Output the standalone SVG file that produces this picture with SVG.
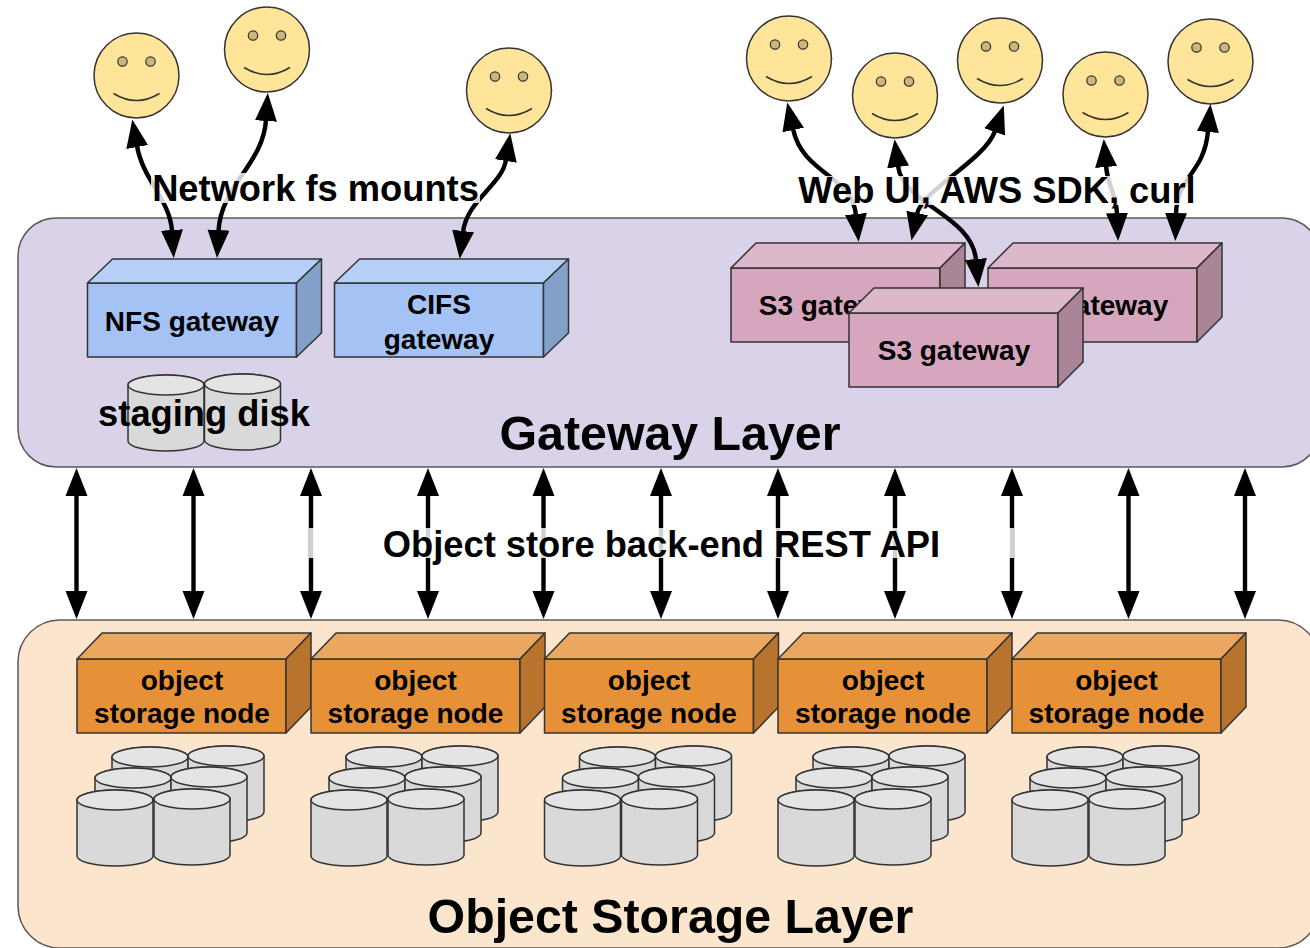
<svg xmlns="http://www.w3.org/2000/svg" xmlns:xlink="http://www.w3.org/1999/xlink" width="1310" height="948" viewBox="0 0 1310 948">
<style>
text{font-family:"Liberation Sans",Arial,sans-serif;fill:#000;text-anchor:middle}
.n{font-size:28px;font-weight:bold;stroke:none}
.l{font-size:36.3px;font-weight:bold}
.h{font-size:48.3px;font-weight:bold}
.s{stroke:#333;stroke-width:1.5;stroke-linejoin:round}
.layer{stroke:#595959;stroke-width:1.5}
.a{fill:none;stroke:#000;stroke-width:4.4;marker-start:url(#ah);marker-end:url(#ah)}
.band{fill:#fff;fill-opacity:.82}
</style>
<defs>
<marker id="ah" markerUnits="userSpaceOnUse" markerWidth="30" markerHeight="24" viewBox="0 0 30 24" refX="1" refY="12" orient="auto-start-reverse"><path d="M0,1 L28,12 L0,23 Z" fill="#000"/></marker>
<g id="boxblue" class="s"><path fill="#a4c2f4" d="M0,0H209V74H0Z"/><path fill="#b6cff6" d="M0,0L25,-24H234L209,0Z"/><path fill="#83a0c8" d="M209,0L234,-24V50L209,74Z"/></g>
<g id="boxpink" class="s"><path fill="#d5a6bd" d="M0,0H209V74H0Z"/><path fill="#ddb7ca" d="M0,0L25,-25H234L209,0Z"/><path fill="#aa8497" d="M209,0L234,-25V49L209,74Z"/></g>
<g id="boxorange" class="s"><path fill="#e69138" d="M0,0H209V74H0Z"/><path fill="#eba760" d="M0,0L25,-26H234L209,0Z"/><path fill="#b8742d" d="M209,0L234,-26V48L209,74Z"/></g>
<g id="cyl" class="s"><path fill="#d9d9d9" d="M0,10A38,10 0 0 1 76,10V66A38,10 0 0 1 0,66Z"/><ellipse cx="38" cy="10" rx="38" ry="10" fill="#e4e4e4"/></g>
<g id="disks"><use href="#cyl" x="35" y="-43"/><use href="#cyl" x="111" y="-44"/><use href="#cyl" x="18" y="-22"/><use href="#cyl" x="94" y="-23"/><use href="#cyl" x="0" y="0"/><use href="#cyl" x="77" y="-1"/></g>
<g id="face"><ellipse cx="0" cy="0" rx="42.500" ry="42.500" fill="#ffe599" stroke="#333" stroke-width="1.5"/><circle cx="-14" cy="-14" r="4.7" fill="#ccb77a" stroke="#333" stroke-width="1.2"/><circle cx="14" cy="-14" r="4.7" fill="#ccb77a" stroke="#333" stroke-width="1.2"/><path d="M-23,18Q0,32 23,18" fill="none" stroke="#333" stroke-width="1.5"/></g>
</defs>
<rect width="1310" height="948" fill="#fff"/>
<g id="gateway-layer"><rect class="layer" x="18" y="218" width="1302" height="249" rx="38" fill="#d9d2e9"/><text class="h" x="670" y="450">Gateway Layer</text></g>
<g id="storage-layer"><rect class="layer" x="18" y="620" width="1302" height="328" rx="42" fill="#fce5cd"/><text class="h" x="670.500" y="933">Object Storage Layer</text></g>
<g id="nfs-gateway"><use href="#boxblue" x="87.5" y="283"/><text class="n" x="192" y="331">NFS gateway</text></g>
<g id="cifs-gateway"><use href="#boxblue" x="334.5" y="283"/><text class="n" x="439" y="314">CIFS</text><text class="n" x="439" y="349">gateway</text></g>
<g id="staging-disk"><use href="#cyl" x="128" y="375"/><use href="#cyl" x="204.5" y="374"/><text class="l" x="204" y="426">staging disk</text></g>
<g id="s3-gateway-left"><use href="#boxpink" x="731" y="268"/><text class="n" x="835" y="315">S3 gateway</text></g>
<g id="s3-gateway-right"><use href="#boxpink" x="988" y="268"/><text class="n" x="1092" y="315">S3 gateway</text></g>
<g id="s3-gateway-center"><use href="#boxpink" x="849" y="313"/><text class="n" x="954" y="360">S3 gateway</text></g>
<g id="storage-node-1"><use href="#boxorange" x="77" y="659"/><text class="n" x="182" y="690">object</text><text class="n" x="182" y="723">storage node</text><use href="#disks" x="77" y="790"/></g>
<g id="storage-node-2"><use href="#boxorange" x="311" y="659"/><text class="n" x="415.500" y="690">object</text><text class="n" x="415.500" y="723">storage node</text><use href="#disks" x="311" y="790"/></g>
<g id="storage-node-3"><use href="#boxorange" x="544.500" y="659"/><text class="n" x="649" y="690">object</text><text class="n" x="649" y="723">storage node</text><use href="#disks" x="544.500" y="790"/></g>
<g id="storage-node-4"><use href="#boxorange" x="778" y="659"/><text class="n" x="883" y="690">object</text><text class="n" x="883" y="723">storage node</text><use href="#disks" x="778" y="790"/></g>
<g id="storage-node-5"><use href="#boxorange" x="1012" y="659"/><text class="n" x="1116.500" y="690">object</text><text class="n" x="1116.500" y="723">storage node</text><use href="#disks" x="1012" y="790"/></g>
<g id="user-1"><use href="#face" x="136.500" y="75.500"/></g>
<g id="user-2"><use href="#face" x="267" y="49.500"/></g>
<g id="user-3"><use href="#face" x="509" y="90.500"/></g>
<g id="user-4"><use href="#face" x="789" y="58.500"/></g>
<g id="user-5"><use href="#face" x="895" y="95.500"/></g>
<g id="user-6"><use href="#face" x="1000" y="60.500"/></g>
<g id="user-7"><use href="#face" x="1105.500" y="94.500"/></g>
<g id="user-8"><use href="#face" x="1210.500" y="61.500"/></g>
<g id="connectors">
<path class="a" d="M137,146C143,180 170,200 172,231"/>
<path class="a" d="M266,120C263,165 221,185 218.500,231"/>
<path class="a" d="M506,160C502,185 467,200 463,232"/>
<path class="a" d="M793,129C803,175 852,175 856,215"/>
<path class="a" d="M898,166C903,205 972,215 976,260"/>
<path class="a" d="M995,131C985,160 922,190 917,214"/>
<path class="a" d="M1106,166C1108,190 1116,190 1117,214"/>
<path class="a" d="M1208,131C1204,175 1177,175 1176,214"/>
<path class="a" d="M76.500,495V592"/><path class="a" d="M193.500,495V592"/><path class="a" d="M311,495V592"/><path class="a" d="M428,495V592"/><path class="a" d="M543.500,495V592"/><path class="a" d="M661,495V592"/><path class="a" d="M778,495V592"/><path class="a" d="M895,495V592"/><path class="a" d="M1012,495V592"/><path class="a" d="M1128.500,495V592"/><path class="a" d="M1245,495V592"/>
<rect class="band" x="151" y="173" width="329" height="30"/>
<rect class="band" x="795" y="176" width="404" height="29"/>
<rect class="band" x="309" y="528" width="705" height="30"/>
<text class="l" x="315.500" y="201">Network fs mounts</text>
<text class="l" x="997" y="203">Web UI, AWS SDK, curl</text>
<text class="l" x="661.500" y="557">Object store back-end REST API</text>
</g>
</svg>
